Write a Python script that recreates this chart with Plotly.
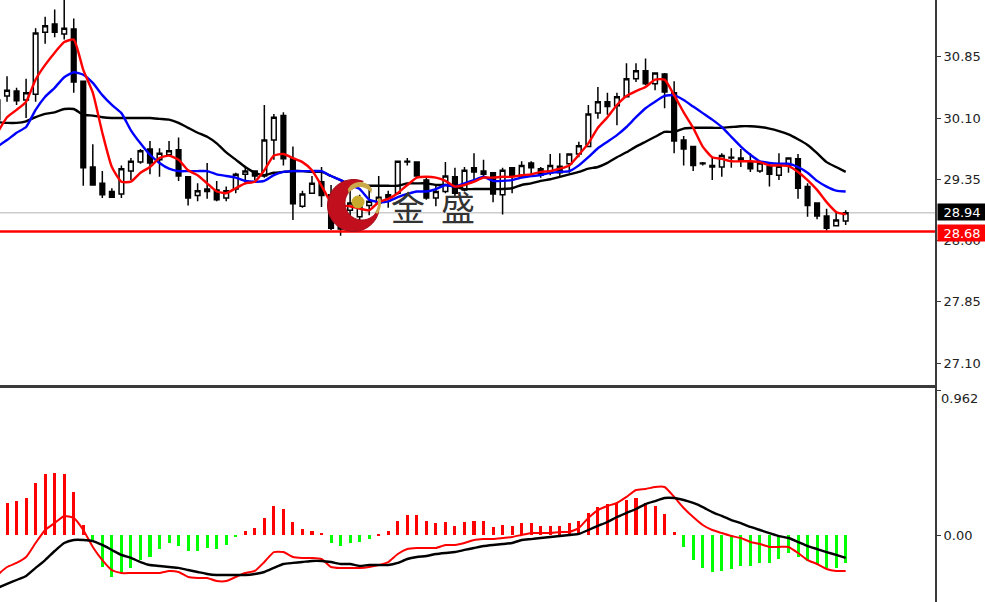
import math
import plotly.graph_objects as go

# ---- price panel data ----
opens = [30.08,30.37,30.43,30.32,30.39,31.15,31.25,31.13,31.19,30.55,
         29.50,29.30,29.20,29.17,29.45,29.56,29.72,29.59,29.65,29.71,
         29.38,29.15,29.20,29.22,29.12,29.23,29.41,29.45,29.39,29.83,
         30.13,29.60,29.02,29.18,29.32,29.16,29.03,28.97,28.89,29.03,
         29.06,29.16,29.18,29.57,29.56,29.34,29.12,29.20,29.38,29.22,
         29.49,29.45,29.43,29.16,29.49,29.38,29.55,29.48,29.43,29.51,
         29.54,29.66,29.75,30.16,30.30,30.25,30.36,30.58,30.68,30.52,
         30.64,30.41,29.83,29.75,29.55,29.52,29.50,29.62,29.61,29.56,
         29.45,29.51,29.40,29.52,29.60,29.26,29.06,28.90,28.78,28.84]
highs = [30.36,30.61,30.47,30.58,31.20,31.34,31.43,31.55,31.32,30.55,
         29.78,29.45,29.24,29.52,29.61,29.72,29.82,29.73,29.82,29.86,
         29.38,29.30,29.55,29.33,29.26,29.43,29.49,29.46,30.26,30.15,
         30.17,29.75,29.21,29.39,29.50,29.28,29.22,29.22,29.16,29.22,
         29.39,29.21,29.57,29.61,29.56,29.37,29.27,29.56,29.49,29.50,
         29.67,29.59,29.44,29.49,29.50,29.57,29.57,29.50,29.66,29.67,
         29.67,29.81,30.26,30.48,30.41,30.41,30.77,30.77,30.83,30.66,
         30.65,30.55,29.88,29.75,29.56,29.62,29.67,29.73,29.72,29.67,
         29.56,29.56,29.67,29.61,29.66,29.30,29.06,28.99,28.95,28.97]
lows = [30.01,30.30,30.26,30.10,30.30,31.01,31.09,31.06,30.41,29.27,
        29.27,29.12,29.13,29.12,29.34,29.54,29.41,29.38,29.64,29.33,
        29.03,29.08,29.11,29.08,29.08,29.18,29.29,29.34,29.37,29.59,
        29.52,28.85,29.00,29.18,29.01,28.73,28.66,28.89,28.85,28.91,
        29.00,29.00,29.16,29.52,29.37,29.10,29.02,29.18,29.12,29.20,
        29.32,29.37,29.07,28.92,29.18,29.37,29.40,29.37,29.40,29.38,
        29.43,29.62,29.75,30.09,30.14,30.01,30.36,30.54,30.50,30.44,
        30.22,29.67,29.52,29.45,29.52,29.34,29.38,29.49,29.50,29.44,
        29.43,29.26,29.34,29.43,29.11,28.89,28.86,28.72,28.78,28.79]
closes = [30.32,30.44,30.31,30.41,31.14,31.23,31.15,31.20,30.54,29.49,
          29.28,29.16,29.13,29.48,29.57,29.70,29.55,29.67,29.70,29.39,
          29.12,29.21,29.23,29.10,29.21,29.41,29.45,29.39,29.83,30.11,
          29.60,29.05,29.17,29.30,29.15,28.75,28.74,29.06,29.03,29.08,
          29.13,29.12,29.57,29.56,29.39,29.12,29.20,29.39,29.18,29.46,
          29.44,29.41,29.17,29.46,29.40,29.52,29.49,29.40,29.52,29.43,
          29.66,29.76,30.15,30.30,30.24,30.36,30.58,30.68,30.52,30.65,
          30.42,29.82,29.72,29.52,29.54,29.50,29.64,29.61,29.57,29.48,
          29.55,29.41,29.51,29.61,29.24,29.03,28.90,28.75,28.85,28.94]

ma_red = [29.92,30.11,30.20,30.30,30.57,30.75,30.90,31.03,31.06,30.69,
          30.41,29.92,29.50,29.32,29.32,29.43,29.50,29.61,29.64,29.59,
          29.46,29.40,29.30,29.20,29.18,29.24,29.30,29.32,29.46,29.64,
          29.66,29.61,29.56,29.46,29.27,29.07,29.03,29.02,28.99,28.97,
          29.07,29.11,29.18,29.28,29.37,29.38,29.37,29.33,29.26,29.28,
          29.32,29.37,29.37,29.38,29.38,29.40,29.41,29.44,29.45,29.48,
          29.52,29.65,29.79,29.98,30.11,30.26,30.37,30.43,30.48,30.57,
          30.57,30.38,30.17,29.98,29.75,29.62,29.60,29.57,29.57,29.57,
          29.56,29.52,29.52,29.51,29.44,29.34,29.22,29.07,28.95,28.92]
ma_blue = [29.75,29.83,29.92,29.99,30.20,30.36,30.47,30.60,30.66,30.63,
           30.53,30.38,30.26,30.16,29.95,29.79,29.65,29.55,29.48,29.45,
           29.45,29.45,29.45,29.41,29.39,29.37,29.33,29.32,29.33,29.40,
           29.44,29.45,29.45,29.45,29.45,29.39,29.34,29.28,29.23,29.10,
           29.07,29.08,29.13,29.17,29.20,29.20,29.23,29.28,29.26,29.30,
           29.34,29.38,29.33,29.33,29.34,29.37,29.39,29.40,29.43,29.44,
           29.45,29.52,29.62,29.73,29.81,29.89,29.99,30.11,30.22,30.30,
           30.37,30.38,30.32,30.24,30.16,30.08,29.99,29.87,29.75,29.65,
           29.57,29.55,29.54,29.54,29.50,29.43,29.33,29.26,29.21,29.20]
ma_black = [30.05,30.04,30.04,30.06,30.11,30.15,30.17,30.21,30.21,30.14,
            30.13,30.11,30.10,30.10,30.10,30.10,30.10,30.09,30.08,30.04,
            29.98,29.92,29.87,29.79,29.68,29.59,29.50,29.43,29.40,29.43,
            29.44,29.45,29.45,29.44,29.44,29.39,29.34,29.28,29.27,29.27,
            29.27,29.27,29.27,29.30,29.30,29.30,29.28,29.28,29.26,29.23,
            29.23,29.23,29.23,29.23,29.24,29.28,29.30,29.33,29.35,29.38,
            29.41,29.44,29.48,29.50,29.55,29.62,29.68,29.75,29.81,29.87,
            29.93,29.93,29.97,29.98,29.98,29.98,29.98,29.99,30.00,30.00,
            29.99,29.97,29.94,29.90,29.84,29.77,29.67,29.56,29.50,29.44]

# ---- MACD panel data ----
hist = [0.200,0.214,0.227,0.247,0.346,0.406,0.413,0.406,0.287,0.068,
        -0.044,-0.210,-0.276,-0.243,-0.217,-0.164,-0.144,-0.091,-0.051,-0.071,
        -0.104,-0.104,-0.084,-0.091,-0.064,-0.011,0.028,0.048,0.115,0.194,
        0.174,0.088,0.042,0.028,0.015,-0.051,-0.071,-0.051,-0.044,-0.025,
        0.008,0.028,0.095,0.134,0.134,0.095,0.081,0.088,0.062,0.088,
        0.095,0.095,0.055,0.068,0.062,0.081,0.081,0.062,0.062,0.062,
        0.081,0.095,0.148,0.187,0.207,0.214,0.234,0.247,0.214,0.194,
        0.141,0.022,-0.077,-0.164,-0.217,-0.243,-0.236,-0.223,-0.203,-0.203,
        -0.183,-0.183,-0.157,-0.117,-0.144,-0.170,-0.197,-0.217,-0.217,-0.183]
macd_red = [-0.263,-0.210,-0.183,-0.144,-0.051,0.035,0.081,0.128,0.115,0.035,
            -0.077,-0.164,-0.230,-0.250,-0.250,-0.250,-0.250,-0.250,-0.236,-0.243,
            -0.276,-0.283,-0.283,-0.303,-0.303,-0.276,-0.250,-0.236,-0.177,-0.111,
            -0.111,-0.144,-0.150,-0.150,-0.157,-0.210,-0.217,-0.217,-0.217,-0.210,
            -0.197,-0.177,-0.124,-0.091,-0.084,-0.084,-0.084,-0.064,-0.064,-0.051,
            -0.031,-0.025,-0.025,-0.018,-0.011,0.002,0.015,0.015,0.015,0.022,
            0.022,0.048,0.115,0.167,0.194,0.214,0.254,0.300,0.307,0.320,
            0.320,0.254,0.181,0.121,0.068,0.035,0.015,-0.005,-0.018,-0.044,
            -0.058,-0.077,-0.077,-0.077,-0.117,-0.164,-0.190,-0.223,-0.236,-0.236]
macd_black = [-0.349,-0.322,-0.296,-0.269,-0.216,-0.164,-0.104,-0.051,-0.031,-0.031,
              -0.038,-0.064,-0.097,-0.130,-0.150,-0.177,-0.197,-0.203,-0.210,-0.216,
              -0.230,-0.243,-0.256,-0.263,-0.263,-0.263,-0.263,-0.256,-0.243,-0.216,
              -0.190,-0.183,-0.177,-0.170,-0.170,-0.177,-0.190,-0.190,-0.203,-0.197,
              -0.197,-0.197,-0.183,-0.157,-0.144,-0.137,-0.124,-0.117,-0.111,-0.097,
              -0.084,-0.071,-0.064,-0.058,-0.051,-0.031,-0.025,-0.018,-0.011,-0.005,
              0.002,0.009,0.035,0.062,0.088,0.121,0.148,0.174,0.207,0.227,
              0.247,0.247,0.234,0.214,0.187,0.154,0.128,0.101,0.081,0.055,
              0.035,0.015,-0.005,-0.018,-0.044,-0.071,-0.091,-0.111,-0.130,-0.150]

# ---- axis labels and levels ----
price_ticks = [30.85, 30.10, 29.35, 28.60, 27.85, 27.10]
price_labels = ["30.85", "30.10", "29.35", "28.60", "27.85", "27.10"]
macd_ticks = [0.962, 0.0]
macd_labels = ["", "0.00"]
last_price = 28.94
last_price_label = "28.94"
support_level = 28.71
support_label = "28.68"
top_label = "31.60"
macd_top_label = "0.962"
brand_chars = ["金", "盛"]

W, H = 985, 602
xs = list(range(len(closes)))
FONT = "DejaVu Sans"
AXC = "#3a3a3a"


def px(x):
    return x / W


def py(y):
    return 1 - y / H


fig = go.Figure()
fig.add_trace(go.Candlestick(
    x=xs, open=opens, high=highs, low=lows, close=closes,
    increasing=dict(fillcolor="white", line=dict(color="black", width=1.5)),
    decreasing=dict(fillcolor="black", line=dict(color="black", width=1.5)),
    whiskerwidth=0, showlegend=False, hoverinfo="skip", xaxis="x", yaxis="y"))
for series, color in ((ma_black, "#000000"), (ma_blue, "#0000ff"), (ma_red, "#ff0000")):
    fig.add_trace(go.Scatter(x=xs, y=series, mode="lines", showlegend=False, hoverinfo="skip",
                             line=dict(color=color, width=2.4, shape="spline", smoothing=0.5),
                             xaxis="x", yaxis="y"))

fig.add_trace(go.Bar(x=xs, y=hist, width=0.32, showlegend=False, hoverinfo="skip",
                     marker=dict(color=["#ff0000" if v > 0 else "#00ff00" for v in hist], line=dict(width=0)),
                     xaxis="x2", yaxis="y2"))
fig.add_trace(go.Scatter(x=xs, y=macd_red, mode="lines", showlegend=False, hoverinfo="skip",
                         line=dict(color="#ff0000", width=2, shape="spline", smoothing=0.5),
                         xaxis="x2", yaxis="y2"))
fig.add_trace(go.Scatter(x=xs, y=macd_black, mode="lines", showlegend=False, hoverinfo="skip",
                         line=dict(color="#000000", width=2.4, shape="spline", smoothing=0.5),
                         xaxis="x2", yaxis="y2"))


def polygon(points):
    return "M " + " L ".join(f"{px(a):.5f},{py(b):.5f}" for a, b in points) + " Z"


def arc(cx, cy, r, a0, a1, n=40):
    return [(cx + r * math.cos(math.radians(a0 + (a1 - a0) * k / n)),
             cy + r * math.sin(math.radians(a0 + (a1 - a0) * k / n))) for k in range(n + 1)]


crescent = arc(353.5, 205.5, 26, -68, -345) + arc(362, 203, 17, 18, 250)
gold_top = arc(360, 196, 14, -150, -30) + arc(360, 200, 13, -30, -150)
gold_right = arc(362, 203, 19, 35, -15) + arc(362, 203, 16, -15, 35)

shapes = [
    dict(type="line", xref="paper", yref="y", x0=0, x1=px(935), y0=last_price, y1=last_price,
         line=dict(color="#cccccc", width=1.5), layer="below"),
    dict(type="line", xref="paper", yref="y", x0=0, x1=px(935), y0=support_level, y1=support_level,
         line=dict(color="#ff0000", width=2.4), layer="above"),
    dict(type="path", xref="paper", yref="paper", path=polygon(crescent),
         fillcolor="#c10f1e", line=dict(color="#a50d1a", width=1), layer="above"),
    dict(type="path", xref="paper", yref="paper", path=polygon(gold_top),
         fillcolor="#c9a94a", line=dict(width=0), layer="above"),
    dict(type="path", xref="paper", yref="paper", path=polygon(gold_right),
         fillcolor="#c9a94a", line=dict(width=0), layer="above"),
    dict(type="circle", xref="paper", yref="paper", x0=px(351.5), x1=px(364.5), y0=py(208.5), y1=py(195.5),
         fillcolor="#c8ab2c", line=dict(width=0), layer="above"),
]

annotations = [
    dict(text=brand_chars[0], xref="paper", yref="paper", x=px(408), y=py(206), showarrow=False,
         xanchor="center", yanchor="middle", font=dict(family="Noto Sans CJK SC", size=34, color="#333333")),
    dict(text=brand_chars[1], xref="paper", yref="paper", x=px(457.5), y=py(206), showarrow=False,
         xanchor="center", yanchor="middle", font=dict(family="Noto Sans CJK SC", size=34, color="#333333")),
    dict(text=last_price_label, xref="paper", yref="paper", x=px(937), y=py(211.5), showarrow=False,
         xanchor="left", yanchor="middle", width=48, height=16, bgcolor="#000000", borderpad=0,
         font=dict(family=FONT, size=13, color="white")),
    dict(text=support_label, xref="paper", yref="paper", x=px(937), y=py(233), showarrow=False,
         xanchor="left", yanchor="middle", width=48, height=16, bgcolor="#ff0000", borderpad=0,
         font=dict(family=FONT, size=13, color="white")),
    dict(text=top_label, xref="paper", yref="paper", x=px(942), y=py(-4), showarrow=False,
         xanchor="left", yanchor="middle", font=dict(family=FONT, size=13, color="#222222")),
    dict(text=macd_top_label, xref="paper", yref="paper", x=px(938.5), y=py(398), showarrow=False,
         xanchor="left", yanchor="middle", font=dict(family=FONT, size=13, color="#222222")),
]

xrange_ = [2.5 / 9.53, 937.5 / 9.53]
tickfont = dict(family=FONT, size=13, color="#222222")
fig.update_layout(
    width=W, height=H, autosize=False,
    margin=dict(l=0, r=0, t=0, b=0), paper_bgcolor="white", plot_bgcolor="white",
    showlegend=False, bargap=0, shapes=shapes, annotations=annotations,
    xaxis=dict(domain=[0, px(935)], range=xrange_, anchor="y", rangeslider=dict(visible=False),
               showticklabels=False, ticks="", showgrid=False, zeroline=False,
               showline=True, linecolor=AXC, linewidth=1.5),
    yaxis=dict(domain=[py(385), 1], range=[31.545 - 385 * 0.012244, 31.545], side="right", anchor="x",
               tickmode="array", tickvals=price_ticks, ticktext=price_labels, ticks="outside", ticklen=4,
               tickcolor=AXC, tickfont=tickfont, showgrid=False, zeroline=False,
               showline=True, linecolor=AXC, linewidth=2),
    xaxis2=dict(domain=[0, px(935)], range=xrange_, anchor="y2", side="top",
                showticklabels=False, ticks="", showgrid=False, zeroline=False,
                showline=True, linecolor=AXC, linewidth=1.5),
    yaxis2=dict(domain=[0, py(388)], range=[(535.3 - 602) / 151, (535.3 - 388) / 151], side="right", anchor="x2",
                tickmode="array", tickvals=macd_ticks, ticktext=macd_labels, ticks="outside", ticklen=4,
                tickcolor=AXC, tickfont=tickfont, showgrid=False, zeroline=False,
                showline=True, linecolor=AXC, linewidth=2),
)

fig.write_html("out.html", config=dict(displayModeBar=False),
               post_script="document.body.style.margin='0';document.body.style.overflow='hidden';")
